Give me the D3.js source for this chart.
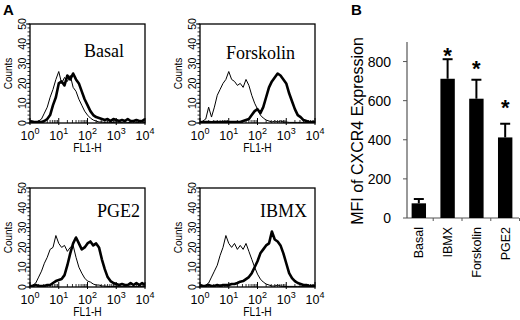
<!DOCTYPE html>
<html><head><meta charset="utf-8">
<script src="https://cdn.jsdelivr.net/npm/d3@7/dist/d3.min.js"></script>
<style>body{margin:0;background:#fff}svg{display:block}</style>
</head><body>
<svg id="chart" width="520" height="320"></svg>
<script>
// ---------- DATA ----------
// Panel A: histogram channels (log10 of FL1-H) and counts
const channelLog = [0.0,0.1,0.2,0.3,0.4,0.5,0.6,0.7,0.8,0.9,1.0,1.1,1.2,1.3,1.4,1.5,1.6,1.7,1.8,1.9,2.0,
                    2.1,2.2,2.3,2.4,2.5,2.6,2.7,2.8,2.9,3.0,3.1,3.2,3.3,3.4,3.5,3.6,3.7,3.8,3.9,4.0];
const basalControl = [0.5,1,0.5,1,2,5,8,13,17,22,26,20,23,21,24,18,16,12,9,6,4,2.5,1.5,1,0.5,0.5,0.3,0.5,0.3,0.3,0.5,0.3,0.3,0.5,0.3,0.3,0.5,0.3,0.3,0.5,0.3];
const basalTreated = [1,0.5,0.5,0.5,0.5,1,2,4,9,13,20,21,19,24,22,25,22,20,16,12,9,6,4,3,2.5,2,1.5,2,1,2,1.5,1,1.5,1,2,1,1,1.5,1,1,2];
const forskolinControl = [0.5,1,2,8,3,8,14,17,20,22,26,22,21,19,20,18,22,19,14,10,7,4,2.5,1.5,1,0.5,1,0.5,1,0.5,0.5,0.3,0.3,0.3,0.3,0.3,0.3,0.3,0.3,0.3,0.3];
const forskolinTreated = [0.5,0.3,0.5,0.5,0.3,0.5,0.5,0.3,0.5,0.5,0.5,0.5,0.5,0.5,0.5,1,1.5,2,4,6,7,5,8,13,18,21,23,25,24,22,20,15,11,7,4,3,1.5,1,0.5,0.3,0.3];
const pge2Control = [0.5,1,2,5,8,12,15,19,20,26,22,20,21,18,20,21,15,10,7,4.5,3,2.5,1.5,1,1,0.5,0.5,0.3,0.3,0.3,0.3,0.3,0.3,0.3,0.3,0.3,0.3,0.3,0.3,0.3,0.3];
const pge2Treated = [0.5,0.5,1,0.5,0.5,0.5,1,1,2,3,3.5,4,6,11,17,22,25,22,19,20,22,23,21,22,20,14,9,5,3,2,1.5,1,1.5,1,1,2,1,2,1,2,1];
const ibmxControl = [0.5,0.5,1,2,5,8,11,16,20,26,22,20,22,19,21,19,22,18,14,10,6.5,4,2.5,1.5,1,0.5,0.5,1,0.5,0.3,0.3,0.3,0.3,0.3,0.3,0.3,0.3,0.3,0.3,0.3,0.3];
const ibmxTreated = [1,0.5,0.5,1,0.5,0.5,1,0.5,1,1,1,1.5,1.5,2,2.7,3,4,5,7,10,13,17,19,21,22,28,24,23,21,17,12,7,4.5,3,2,1.5,1,1,0.5,0.5,0.5];
const histNames = ["Basal","Forskolin","PGE2","IBMX"];
const countTicks = [0,10,20,30,40,50];
const decadeTicks = [1,10,100,1000,10000];
const decadeExponents = ["0","1","2","3","4"];

// Panel B: MFI of CXCR4 expression
const categories = ["Basal","IBMX","Forskolin","PGE2"];
const mfiValues = [75, 712, 610, 412];
const mfiErrors = [22, 100, 97, 70];
const significant = [false, true, true, true];
const starLevels = [null, 856, 790, 590];
const mfiTicks = [0,200,400,600,800];

// ---------- DRAW ----------
const svg = d3.select("#chart");
const sans = "'Liberation Sans', Arial, Helvetica, sans-serif";
const serif = "'Liberation Serif', 'Times New Roman', serif";

const histSeries = [
  [basalControl, basalTreated],
  [forskolinControl, forskolinTreated],
  [pge2Control, pge2Treated],
  [ibmxControl, ibmxTreated]
];
const layout = [
  {left:30,  top:24,  labelX:124, labelY:57},
  {left:200, top:24,  labelX:295, labelY:59},
  {left:30,  top:188, labelX:140, labelY:217},
  {left:200, top:188, labelX:307, labelY:217}
];
const boxW = 115, boxH = 99;

// Panel letters
svg.append("text").attr("x",3).attr("y",15).attr("font-family",sans).attr("font-weight","bold")
  .attr("font-size",15).text("A");
svg.append("text").attr("x",351).attr("y",15).attr("font-family",sans).attr("font-weight","bold")
  .attr("font-size",15).text("B");

histNames.forEach((name,i)=>{
  const L = layout[i];
  const g = svg.append("g");
  const x = d3.scaleLog().domain([1,1e4]).range([L.left, L.left+boxW]);
  const y = d3.scaleLinear().domain([0,50]).range([L.top+boxH, L.top]);
  const clipId = "clip"+i;
  svg.append("clipPath").attr("id",clipId).append("rect")
    .attr("x",L.left).attr("y",L.top).attr("width",boxW).attr("height",boxH);

  const line = d3.line().x((d,j)=>x(Math.pow(10,channelLog[j]))).y(d=>y(d));
  const [ctrl, trt] = histSeries[i];
  g.append("path").datum(ctrl).attr("d",line).attr("fill","none").attr("stroke","#000")
    .attr("stroke-width",1).attr("clip-path",`url(#${clipId})`);
  g.append("path").datum(trt).attr("d",line).attr("fill","none").attr("stroke","#000")
    .attr("stroke-width",2.6).attr("stroke-linejoin","round").attr("clip-path",`url(#${clipId})`);

  // box
  g.append("rect").attr("x",L.left).attr("y",L.top).attr("width",boxW).attr("height",boxH)
    .attr("fill","none").attr("stroke","#000").attr("stroke-width",1.3);

  // y ticks (major + minor)
  const minorY = d3.range(0,51,2);
  g.selectAll(".ym").data(minorY).join("line")
    .attr("x1",L.left-2.5).attr("x2",L.left).attr("y1",d=>y(d)).attr("y2",d=>y(d))
    .attr("stroke","#000").attr("stroke-width",0.8);
  g.selectAll(".yM").data(countTicks).join("line")
    .attr("x1",L.left-4).attr("x2",L.left).attr("y1",d=>y(d)).attr("y2",d=>y(d))
    .attr("stroke","#000").attr("stroke-width",1);
  g.selectAll(".yl").data(countTicks).join("text")
    .attr("transform",d=>`translate(${L.left-4.5},${y(d)}) rotate(-90)`)
    .attr("text-anchor","middle").attr("font-family",sans).attr("font-size",10.5).text(d=>d);
  g.append("text").attr("transform",`translate(${L.left-18},${L.top+boxH/2}) rotate(-90)`)
    .attr("text-anchor","middle").attr("font-family",sans).attr("font-size",10).text("Counts");

  // x ticks (log minor + major), inward
  const minorX = [];
  for (let k=0;k<4;k++) for (let m=2;m<10;m++) minorX.push(m*Math.pow(10,k));
  g.selectAll(".xm").data(minorX).join("line")
    .attr("x1",d=>x(d)).attr("x2",d=>x(d)).attr("y1",L.top+boxH).attr("y2",L.top+boxH-3)
    .attr("stroke","#000").attr("stroke-width",0.8);
  g.selectAll(".xM").data(decadeTicks).join("line")
    .attr("x1",d=>x(d)).attr("x2",d=>x(d)).attr("y1",L.top+boxH+2).attr("y2",L.top+boxH-5)
    .attr("stroke","#000").attr("stroke-width",1);
  const xl = g.selectAll(".xl").data(decadeTicks).join("text")
    .attr("x",d=>x(d)).attr("y",L.top+boxH+16.5).attr("text-anchor","middle")
    .attr("font-family",sans).attr("font-size",12.5);
  xl.append("tspan").text("10");
  xl.append("tspan").attr("dy",-6).attr("font-size",9).text((d,j)=>decadeExponents[j]);
  g.append("text").attr("transform",`translate(${L.left+boxW/2},${L.top+boxH+29}) scale(0.82,1)`)
    .attr("text-anchor","middle").attr("font-family",sans).attr("font-size",12.5).text("FL1-H");

  // treatment label
  g.append("text").attr("x",L.labelX).attr("y",L.labelY).attr("text-anchor","end")
    .attr("font-family",serif).attr("font-size",18).text(name);
});

// Panel B
const xB = d3.scaleBand().domain(categories).range([405,519]).paddingInner(0.5).paddingOuter(0.23);
const yB = d3.scaleLinear().domain([0,900]).range([218,42]);
const gB = svg.append("g");
gB.append("line").attr("x1",407).attr("x2",407).attr("y1",yB(900)).attr("y2",yB(0))
  .attr("stroke","#555").attr("stroke-width",1.2);
gB.append("line").attr("x1",407).attr("x2",519).attr("y1",yB(0)).attr("y2",yB(0))
  .attr("stroke","#555").attr("stroke-width",1.2);
gB.selectAll(".bt").data(mfiTicks).join("line")
  .attr("x1",403).attr("x2",407).attr("y1",d=>yB(d)).attr("y2",d=>yB(d))
  .attr("stroke","#555").attr("stroke-width",1);
gB.selectAll(".btl").data(mfiTicks).join("text")
  .attr("x",391).attr("y",d=>yB(d)+5).attr("text-anchor","end")
  .attr("font-family",sans).attr("font-size",14).text(d=>d);
// category boundary ticks
gB.selectAll(".ct").data(categories).join("line")
  .attr("x1",d=>xB(d)+xB.bandwidth()+ (xB.step()-xB.bandwidth())/2)
  .attr("x2",d=>xB(d)+xB.bandwidth()+ (xB.step()-xB.bandwidth())/2)
  .attr("y1",yB(0)).attr("y2",yB(0)+3).attr("stroke","#555").attr("stroke-width",1);
// error bars
gB.selectAll(".eb").data(categories).join("line")
  .attr("x1",d=>xB(d)+xB.bandwidth()/2).attr("x2",d=>xB(d)+xB.bandwidth()/2)
  .attr("y1",(d,i)=>yB(mfiValues[i])).attr("y2",(d,i)=>yB(mfiValues[i]+mfiErrors[i]))
  .attr("stroke","#000").attr("stroke-width",2);
gB.selectAll(".ec").data(categories).join("line")
  .attr("x1",d=>xB(d)+xB.bandwidth()/2-5).attr("x2",d=>xB(d)+xB.bandwidth()/2+5)
  .attr("y1",(d,i)=>yB(mfiValues[i]+mfiErrors[i])).attr("y2",(d,i)=>yB(mfiValues[i]+mfiErrors[i]))
  .attr("stroke","#000").attr("stroke-width",2);
gB.selectAll(".bar").data(categories).join("rect")
  .attr("x",d=>xB(d)).attr("width",xB.bandwidth())
  .attr("y",(d,i)=>yB(mfiValues[i])).attr("height",(d,i)=>yB(0)-yB(mfiValues[i]))
  .attr("fill","#000");
gB.selectAll(".star").data(categories.filter((d,i)=>significant[i])).join("text")
  .attr("x",d=>xB(d)+xB.bandwidth()/2)
  .attr("y",d=>yB(starLevels[categories.indexOf(d)])+12)
  .attr("text-anchor","middle").attr("font-family",sans).attr("font-weight","bold")
  .attr("font-size",22).text("*");
gB.selectAll(".cl").data(categories).join("text")
  .attr("transform",d=>`translate(${xB(d)+xB.bandwidth()/2+4.5},227) rotate(-90)`)
  .attr("text-anchor","end").attr("font-family",sans).attr("font-size",12.5).text(d=>d);
gB.append("text").attr("transform",`translate(363,131) rotate(-90)`)
  .attr("text-anchor","middle").attr("font-family",sans).attr("font-size",16)
  .text("MFI of CXCR4 Expression");
</script>
</body></html>
